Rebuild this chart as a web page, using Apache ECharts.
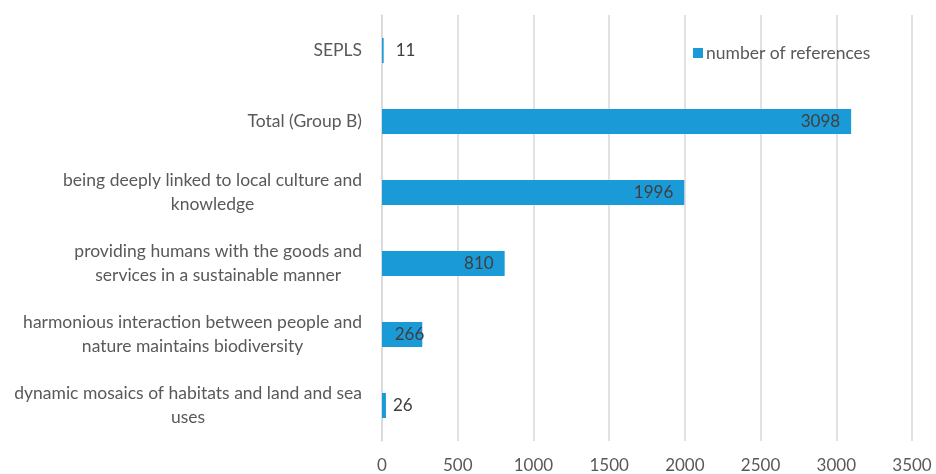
<!DOCTYPE html>
<html>
<head>
<meta charset="utf-8">
<script src="https://cdn.jsdelivr.net/npm/echarts@6/dist/echarts.min.js"></script>
<style>
  html, body { margin: 0; padding: 0; background: #ffffff; }
  #chart { width: 936px; height: 474px; }
</style>
</head>
<body>
<div id="chart"></div>
<script>
// Category labels, bottom to top (line breaks as they wrap on the axis)
const categories = [
  'dynamic mosaics of habitats and land and sea\nuses',
  'harmonious interaction between people and\nnature maintains biodiversity',
  'providing humans with the goods and\nservices in a sustainable manner',
  'being deeply linked to local culture and\nknowledge',
  'Total (Group B)',
  'SEPLS'
];
const references = [26, 266, 810, 1996, 3098, 11];
const seriesName = 'number of references';
const xTicks = [0, 500, 1000, 1500, 2000, 2500, 3000, 3500];

const FONT = 'Lato, "Open Sans", sans-serif';

// Value labels: past the end for tiny bars, inside the end otherwise
// (short bars keep their label pressed to the end so it stays off the axis)
function valueLabel(v) {
  if (v < 20) return { position: 'right', distance: 12 };
  if (v < 100) return { position: 'right', distance: 7 };
  if (v < 500) return { position: 'insideRight', distance: -2 };
  return { position: 'insideRight', distance: 11 };
}
const barData = references.map(v => ({ value: v, label: valueLabel(v) }));

// Each wrapped line is centred within its label block
const centredLines = v => v.split('\n').map(line => '{c|' + line + '}').join('\n');

const chart = echarts.init(document.getElementById('chart'), null, { renderer: 'canvas' });
chart.setOption({
  animation: false,
  backgroundColor: '#ffffff',
  grid: { left: 382, right: 24, top: 15, bottom: 32, containLabel: false },
  legend: {
    data: [seriesName],
    left: 688,
    top: 39,
    icon: 'rect',
    itemWidth: 10,
    itemHeight: 10,
    itemGap: 6,
    textStyle: { color: '#595959', fontSize: 17.5, fontFamily: FONT, padding: [0, 0, 0, -2] }
  },
  xAxis: {
    type: 'value',
    min: xTicks[0],
    max: xTicks[xTicks.length - 1],
    interval: 500,
    axisLine: { show: false },
    axisTick: { show: false },
    axisLabel: {
      color: '#595959', fontSize: 17, fontFamily: FONT, margin: 16,
      formatter: v => String(v)
    },
    splitLine: { show: true, lineStyle: { color: '#d9d9d9', width: 1.5 } }
  },
  yAxis: {
    type: 'category',
    data: categories,
    axisLine: { show: true, lineStyle: { color: '#d9d9d9', width: 1.5 } },
    axisTick: { show: false },
    axisLabel: {
      color: '#595959',
      fontSize: 17.5,
      fontFamily: FONT,
      margin: 20,
      align: 'right',
      lineHeight: 24,
      formatter: centredLines,
      rich: {
        c: {
          align: 'center',
          color: '#595959',
          fontSize: 17.5,
          fontFamily: FONT,
          lineHeight: 24
        }
      }
    }
  },
  series: [{
    name: seriesName,
    type: 'bar',
    data: barData,
    barWidth: 25,
    itemStyle: { color: '#1a9ad6' },
    label: {
      show: true,
      color: '#404040',
      fontSize: 17,
      fontFamily: FONT
    }
  }]
});
</script>
</body>
</html>
